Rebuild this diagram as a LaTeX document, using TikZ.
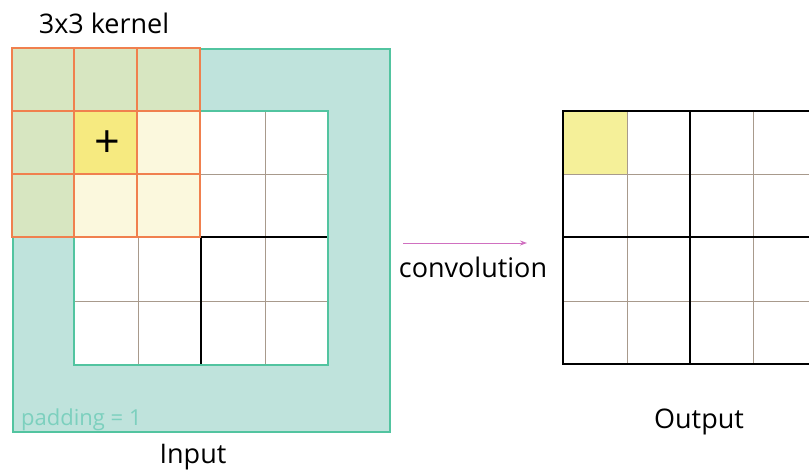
\documentclass[tikz,border=0pt]{standalone}
\usepackage{fontspec}
\setmainfont{Open Sans}
\usetikzlibrary{arrows.meta}
\definecolor{padfill}{HTML}{BFE3DC}
\definecolor{padline}{HTML}{52C4A0}
\definecolor{padtext}{HTML}{7CD0BE}
\definecolor{kgreen}{HTML}{D7E6C1}
\definecolor{klight}{HTML}{FBF8DD}
\definecolor{kcenter}{HTML}{F6EA80}
\definecolor{kline}{HTML}{F0804E}
\definecolor{thin}{HTML}{A89A8C}
\definecolor{outyellow}{HTML}{F5F099}
\definecolor{arrowpink}{HTML}{D070C0}
\tikzset{
  label text/.style={font=\fontsize{27}{30}\selectfont, text=black, inner sep=0pt, anchor=base},
  pad text/.style={font=\fontsize{22}{24}\selectfont, text=padtext, inner sep=0pt, anchor=base west},
  thin line/.style={draw=thin, line width=0.9pt},
  bold line/.style={draw=black, line width=1.5pt},
  teal border/.style={draw=padline, line width=2.9pt},
  kernel line/.style={draw=kline, line width=1.8pt},
}
\begin{document}
\begin{tikzpicture}[x=1pt, y=-1pt]
\useasboundingbox (0,0) rectangle (809,472);

% ---- input with zero padding ----
\fill[padfill] (13,49) rectangle (390,432);
\fill[white] (74,111) rectangle (328,365);
% inner grid
\draw[thin line] (265,111) -- (265,365);
\draw[thin line] (138,237) -- (138,365);
\draw[thin line] (201,174) -- (328,174);
\draw[thin line] (74,301) -- (328,301);
\draw[bold line] (201,237) -- (328,237);
\draw[bold line] (201,237) -- (201,365);
% borders
\draw[teal border] (13,49) rectangle (390,432);
\draw[teal border] (74,111) rectangle (328,365);

% ---- 3x3 kernel ----
\fill[kgreen] (12,48) rectangle (200,111);
\fill[kgreen] (12,111) rectangle (74,237);
\fill[klight] (74,111) rectangle (200,237);
\fill[kcenter] (74,111) rectangle (137,174);
\foreach \kx in {74,137} \draw[kernel line] (\kx,48) -- (\kx,237);
\foreach \ky in {111,174} \draw[kernel line] (12,\ky) -- (200,\ky);
\draw[kernel line] (12,48) rectangle (200,237);
\node[font=\fontsize{45}{45}\selectfont, inner sep=0pt] (plus) at (107,144) {+};

% ---- output ----
\fill[outyellow] (563,111) rectangle (627,174);
\draw[thin line] (627,111) -- (627,364);
\draw[thin line] (753,111) -- (753,364);
\draw[thin line] (563,174) -- (809,174);
\draw[thin line] (563,301) -- (809,301);
\draw[bold line] (690,111) -- (690,364);
\draw[bold line] (563,237) -- (809,237);
\draw[bold line] (809,111) -- (563,111) -- (563,364) -- (809,364);

% ---- labels ----
\node[label text] (kernel) at (104,33) {3x3 kernel};
\node[label text] (input) at (193,463) {Input};
\node[label text] (output) at (699,428) {Output};
\node[label text] (conv) at (473,277) {convolution};
\node[pad text] (pad) at (21,425) {padding = 1};

% ---- arrow ----
\coordinate (arrA) at (403,243);
\coordinate (arrB) at (527,243);
\draw[arrowpink, line width=1pt, -{Stealth[length=7pt, width=5pt]}] (arrA) -- (arrB);
\end{tikzpicture}
\end{document}
